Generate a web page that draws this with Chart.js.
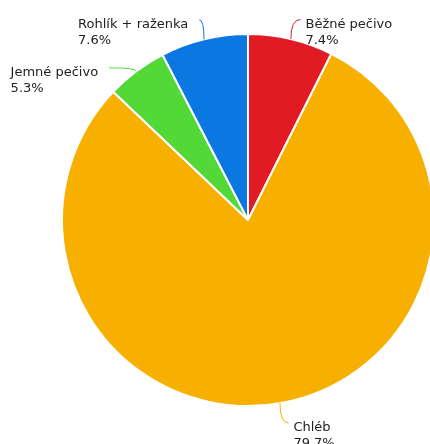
<!DOCTYPE html>
<html>
<head>
<meta charset="utf-8">
<script src="https://cdn.jsdelivr.net/npm/chart.js@4/dist/chart.umd.min.js"></script>
<style>
  html, body { margin: 0; padding: 0; background: #fff; overflow: hidden; }
  #wrap { position: absolute; left: 0; top: 0; width: 440px; height: 444px; }
</style>
</head>
<body>
<div id="wrap"><canvas id="chart" width="440" height="444"></canvas></div>
<script>
// pie slices, clockwise from the top
const categories = ['Běžné pečivo', 'Chléb', 'Jemné pečivo', 'Rohlík + raženka'];
const shares = [7.4, 79.7, 5.3, 7.6];
const sliceColors = ['#e01b24', '#f8b000', '#52d938', '#0a78e0'];

const FONT = '13px "DejaVu Sans", Verdana, sans-serif';

// outside labels with curved connectors, pushed apart when they crowd
const pieLabels = {
  id: 'pieLabels',
  afterDatasetsDraw(chart) {
    const ctx = chart.ctx;
    const meta = chart.getDatasetMeta(0);
    const dist = 20, minGap = 48, lineH = 16;
    const items = meta.data.map((arc, i) => {
      const p = arc.getProps(['x', 'y', 'startAngle', 'endAngle', 'outerRadius']);
      const mid = (p.startAngle + p.endAngle) / 2;
      return {
        i, cx: p.x, cy: p.y, R: p.outerRadius,
        ex: p.x + Math.cos(mid) * p.outerRadius,
        ey: p.y + Math.sin(mid) * p.outerRadius,
        ay: p.y + Math.sin(mid) * (p.outerRadius + dist),
        right: Math.cos(mid) >= 0
      };
    });

    [true, false].forEach(side => {
      const list = items.filter(it => it.right === side).sort((a, b) => a.ay - b.ay);
      for (let k = 1; k < list.length; k++) {
        if (list[k].ay - list[k - 1].ay < minGap) list[k].ay = list[k - 1].ay + minGap;
      }
    });

    ctx.save();
    ctx.font = FONT;
    ctx.textBaseline = 'alphabetic';
    items.forEach(it => {
      const rr = it.R + dist;
      const dy = it.ay - it.cy;
      const dx = Math.sqrt(Math.max(rr * rr - dy * dy, 0));
      const ax = it.right ? it.cx + dx + 5 : it.cx - dx;

      ctx.strokeStyle = sliceColors[it.i];
      ctx.lineWidth = 1;
      ctx.beginPath();
      ctx.moveTo(it.ex, it.ey);
      ctx.quadraticCurveTo(it.ex, it.ay, ax, it.ay);
      ctx.stroke();

      const lines = [categories[it.i], shares[it.i].toFixed(1) + '%'];
      const w = Math.max(...lines.map(t => ctx.measureText(t).width));
      const tx = it.right ? ax + 5 : ax - 11 - w;
      ctx.fillStyle = '#222';
      ctx.textAlign = 'left';
      lines.forEach((t, k) => ctx.fillText(t, tx, it.ay + 8.5 + k * lineH));
    });
    ctx.restore();
  }
};

new Chart(document.getElementById('chart'), {
  type: 'pie',
  data: {
    labels: categories,
    datasets: [{
      data: shares,
      backgroundColor: sliceColors,
      borderColor: '#ffffff',
      borderWidth: 2
    }]
  },
  options: {
    responsive: false,
    animation: false,
    layout: { padding: { left: 61, top: 33, right: 5, bottom: 37 } },
    plugins: {
      legend: { display: false },
      tooltip: { enabled: false }
    }
  },
  plugins: [pieLabels]
});
</script>
</body>
</html>
